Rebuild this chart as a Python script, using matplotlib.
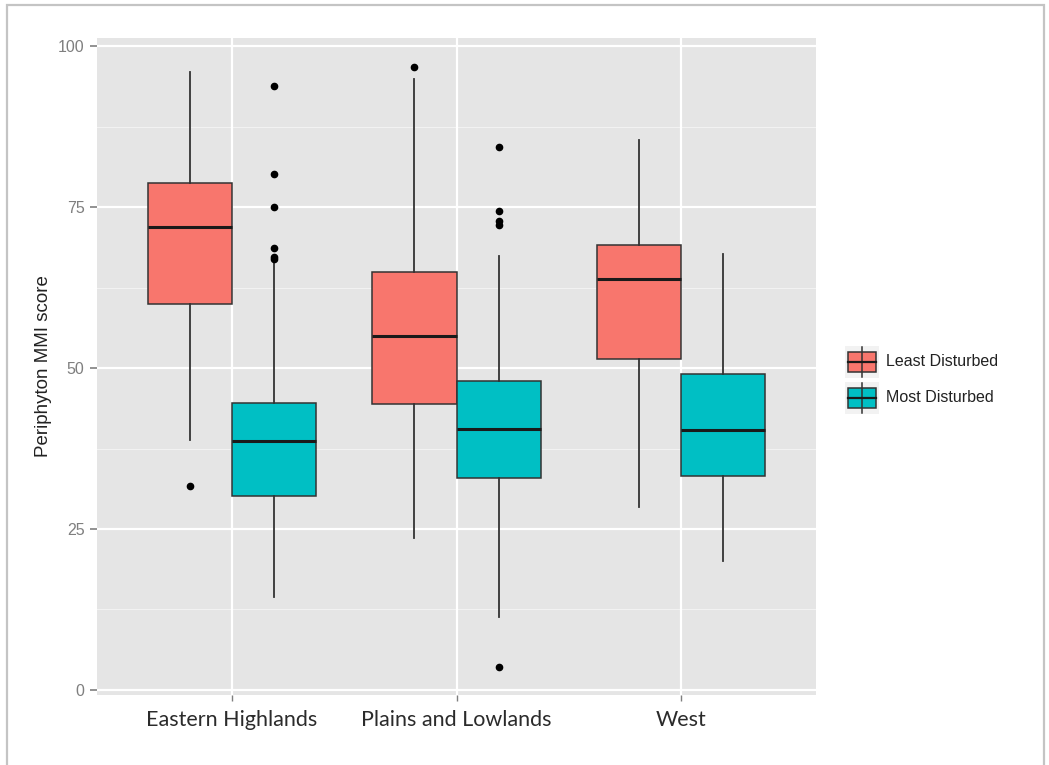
"""Periphyton MMI score by ecoregion, least vs most disturbed sites (ggplot-style boxplot)."""
import matplotlib
matplotlib.use("Agg")
import matplotlib.pyplot as plt
from matplotlib.patches import Rectangle

# data
regions = ["Eastern Highlands", "Plains and Lowlands", "West"]
groups = ["Least Disturbed", "Most Disturbed"]
# per group: one value per region
whislo = {"Least Disturbed": [38.8, 23.6, 28.4], "Most Disturbed": [14.4, 11.3, 20.1]}
q1 = {"Least Disturbed": [60.0, 44.4, 51.4], "Most Disturbed": [30.2, 32.9, 33.3]}
med = {"Least Disturbed": [72.0, 55.0, 63.8], "Most Disturbed": [38.6, 40.5, 40.4]}
q3 = {"Least Disturbed": [78.7, 64.9, 69.2], "Most Disturbed": [44.6, 48.0, 49.1]}
whishi = {"Least Disturbed": [96.0, 95.0, 85.4], "Most Disturbed": [66.8, 67.4, 67.7]}
outliers = {
    "Least Disturbed": [[31.7], [96.8], []],
    "Most Disturbed": [[93.8, 80.2, 75.0, 68.6, 67.2, 66.9], [84.3, 74.4, 72.9, 72.2, 3.6], []],
}

COLORS = {"Least Disturbed": "#F8766D", "Most Disturbed": "#00BFC4"}
EDGE = "#333333"
TICK_GREY = "#7f7f7f"

plt.rcParams["font.family"] = ["Liberation Sans", "DejaVu Sans"]

fig = plt.figure(figsize=(10.49, 7.65), dpi=100)
# light frame around the whole picture
fig.patches.append(Rectangle((7 / 1049, -0.05), (1044 - 7) / 1049, 1.05 - 5 / 765,
                             transform=fig.transFigure, fill=False,
                             edgecolor="#c4c4c4", lw=1.6))

ax = fig.add_axes([97 / 1049, 1 - 695 / 765, (816 - 97) / 1049, (695 - 38) / 765])
ax.set_facecolor("#E5E5E5")
for sp in ax.spines.values():
    sp.set_visible(False)

# grid (old ggplot theme_grey)
for v in [12.5, 37.5, 62.5, 87.5]:
    ax.axhline(v, color="#F2F2F2", lw=0.8, zorder=0)
for v in [0, 25, 50, 75, 100]:
    ax.axhline(v, color="white", lw=1.6, zorder=0)
for i in range(len(regions)):
    ax.axvline(i + 1, color="white", lw=1.6, zorder=0)

w = 0.375
for g_i, g in enumerate(groups):
    stats = []
    for i in range(len(regions)):
        stats.append(dict(med=med[g][i], q1=q1[g][i], q3=q3[g][i],
                          whislo=whislo[g][i], whishi=whishi[g][i],
                          fliers=outliers[g][i]))
    pos = [i + 1 + (g_i - 0.5) * w for i in range(len(regions))]
    ax.bxp(stats, positions=pos, widths=w, patch_artist=True, showcaps=False,
           manage_ticks=False,
           boxprops=dict(facecolor=COLORS[g], edgecolor=EDGE, lw=1.1),
           medianprops=dict(color="#1a1a1a", lw=2.2),
           whiskerprops=dict(color=EDGE, lw=1.3),
           flierprops=dict(marker="o", markerfacecolor="black",
                           markeredgecolor="black", markersize=4.5))

ax.set_xlim(0.4, 3.6)
ax.set_ylim(-0.8, 101.3)
ax.set_yticks([0, 25, 50, 75, 100])
ax.set_xticks([1, 2, 3])
ax.tick_params(axis="y", colors=TICK_GREY, labelsize=11.5, length=5, width=1.2, pad=4)
ax.tick_params(axis="x", colors=TICK_GREY, length=4, width=1.0, pad=7)
ax.set_xticklabels(regions, fontsize=15.5, color="#2b2b2b", family=["Lato", "DejaVu Sans"])
ax.set_ylabel("Periphyton MMI score", fontsize=13.5, color="#222222", labelpad=4)

# legend keys drawn in their own small axes
lax = fig.add_axes([845 / 1049, 1 - 414 / 765, 200 / 1049, 72 / 765])
lax.set_xlim(0, 200)
lax.set_ylim(72, 0)
lax.axis("off")
for k, g in enumerate(groups):
    y0 = 4 + k * 36
    lax.add_patch(Rectangle((0, y0), 34, 32, facecolor="#F2F2F2", edgecolor="none"))
    lax.plot([17, 17], [y0 + 1, y0 + 31], color=EDGE, lw=1.1)
    lax.add_patch(Rectangle((3, y0 + 6), 28, 20, facecolor=COLORS[g], edgecolor=EDGE, lw=1.1))
    lax.plot([3, 31], [y0 + 16, y0 + 16], color="#1a1a1a", lw=1.6)
    lax.text(41, y0 + 16, g, fontsize=11.5, color="#222222", va="center", ha="left")

fig.savefig("out.png", dpi=100)
